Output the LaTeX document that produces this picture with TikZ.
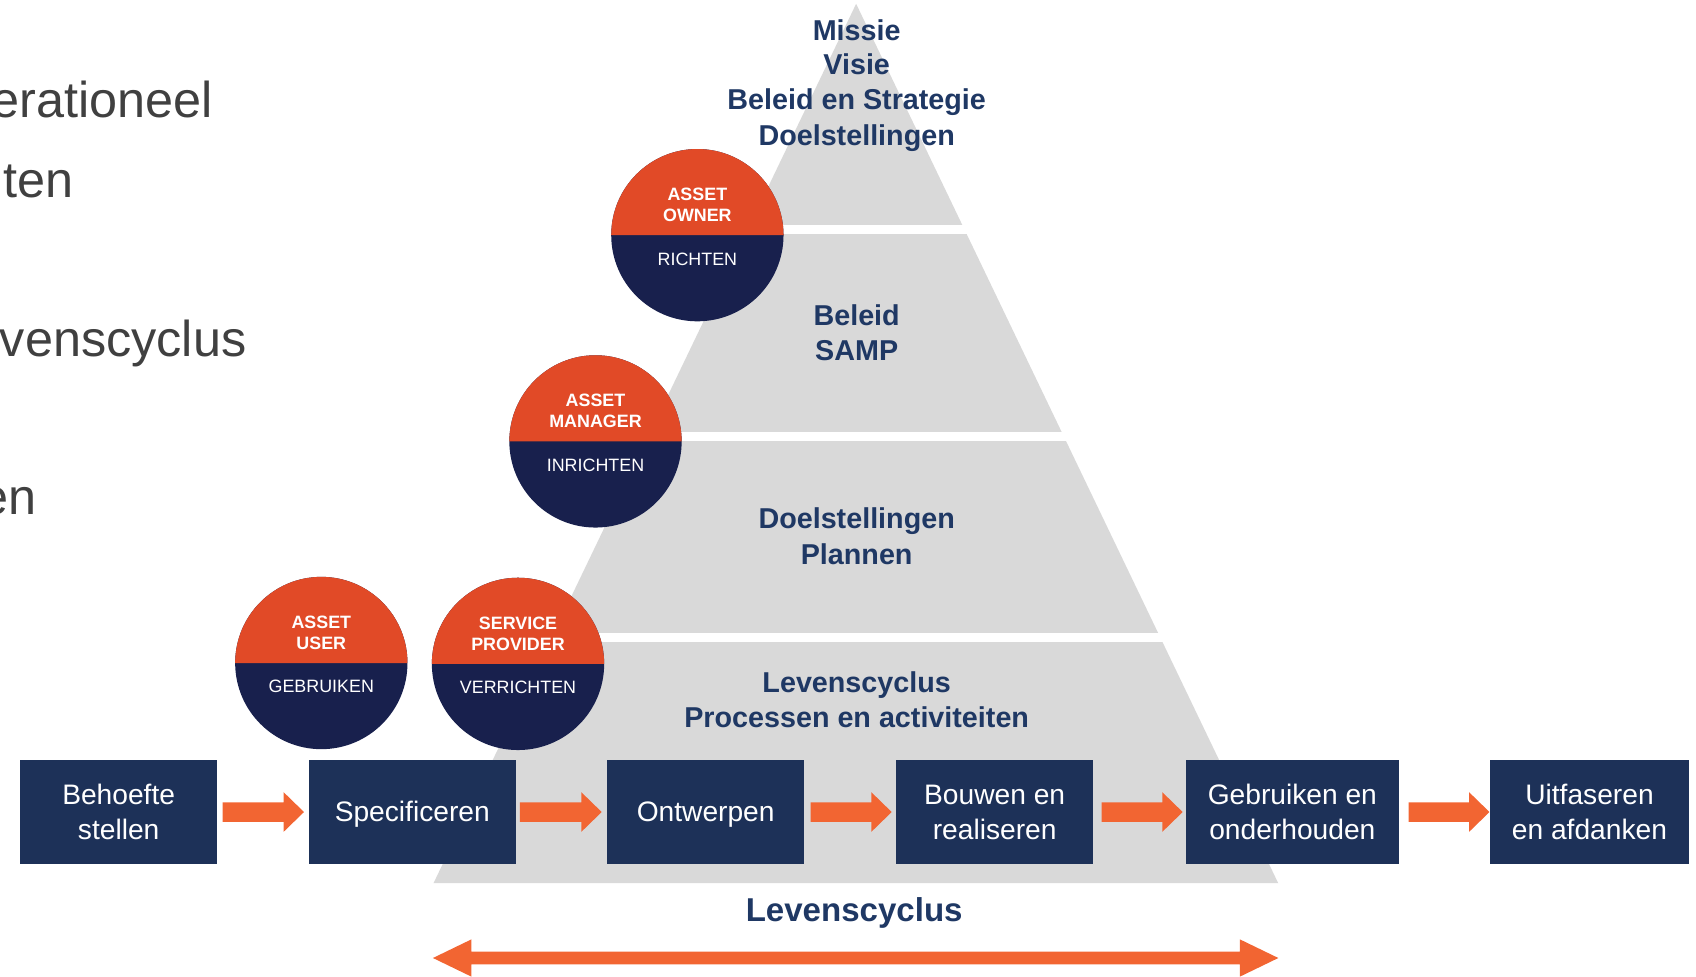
\documentclass[tikz,border=0pt]{standalone}
\usepackage{fontspec}
\setmainfont{Liberation Sans}
\usetikzlibrary{calc}
\definecolor{pyrgray}{HTML}{D9D9D9}
\definecolor{navytxt}{HTML}{1F3864}
\definecolor{boxnavy}{HTML}{1D3158}
\definecolor{circorange}{HTML}{E14A27}
\definecolor{circnavy}{HTML}{18204D}
\definecolor{arroworange}{HTML}{F26532}
\definecolor{sidegray}{HTML}{404040}
% block arrow from box #1 to box #2, #3 = gap after #1, #4 = gap before #2
\newcommand{\blockarrow}[4]{%
  \fill[arroworange] ($(#1.east)+(#3,-9)$) -- ($(#2.west)+(-#4-18.8,-9)$) -- ($(#2.west)+(-#4-18.8,-18.3)$) -- ($(#2.west)+(-#4,0)$) -- ($(#2.west)+(-#4-18.8,18.3)$) -- ($(#2.west)+(-#4-18.8,9)$) -- ($(#1.east)+(#3,9)$) -- cycle;}
\begin{document}
\begin{tikzpicture}[x=1pt,y=-1pt,
  pyrtxt/.style={anchor=base,inner sep=0pt,text=navytxt,font=\fontsize{26.5}{32}\selectfont\bfseries},
  boxtxt/.style={anchor=base,inner sep=0pt,text=white,font=\fontsize{26}{31}\selectfont},
  roletxt/.style={anchor=base,inner sep=0pt,text=white,font=\fontsize{16.5}{20}\selectfont\bfseries},
  verbtxt/.style={anchor=base,inner sep=0pt,text=white,font=\fontsize{16.5}{20}\selectfont},
  sidetxt/.style={anchor=base east,inner sep=0pt,text=sidegray,font=\fontsize{46.5}{55}\selectfont},
  stagebox/.style={rectangle,fill=boxnavy,minimum height=96pt,inner sep=0pt,outer sep=0pt},
  rolecirc/.style={circle,fill=circnavy,minimum size=159pt,inner sep=0pt,outer sep=0pt}]
\useasboundingbox (0,0) rectangle (1565,901.5);
\clip (0,0) rectangle (1565,901.5);

% side text (cut off at left edge)
\node[sidetxt] (s1) at (196.7,108.3) {erationeel};
\node[sidetxt] (s2) at (67.8,182.4) {ten};
\node[sidetxt] (s3) at (227.5,329.1) {venscyclus};
\node[sidetxt] (s4) at (34,475.2) {en};

% pyramid
\coordinate (apex) at (790,3.5);
\coordinate (pbl) at (400,815);
\coordinate (pbr) at (1179.5,815);
\fill[pyrgray] (apex) -- (pbl) -- (pbr) -- cycle;
\fill[white] (380,207.6) rectangle (1200,216.2);
\fill[white] (380,398.3) rectangle (1200,406.7);
\fill[white] (380,584.2) rectangle (1200,592.6);

% pyramid texts
\node[pyrtxt] (m1) at (790.5,37) {Missie};
\node[pyrtxt] (m2) at (790.5,69) {Visie};
\node[pyrtxt] (m3) at (790.5,101.5) {Beleid en Strategie};
\node[pyrtxt] (m4) at (790.5,134) {Doelstellingen};
\node[pyrtxt] (p1) at (790.5,300.8) {Beleid};
\node[pyrtxt] (p2) at (790.5,333) {SAMP};
\node[pyrtxt] (d1) at (790.5,488.1) {Doelstellingen};
\node[pyrtxt] (d2) at (790.5,520.6) {Plannen};
\node[pyrtxt] (l1) at (790.5,639.1) {Levenscyclus};
\node[pyrtxt] (l2) at (790.5,671) {Processen en activiteiten};
\node[pyrtxt,font=\fontsize{30.5}{36}\selectfont\bfseries] (lc) at (788.2,850.5) {Levenscyclus};

% role circles
\foreach \nm/\cx/\cy/\ta/\tb/\vb in {own/643.5/217/ASSET/OWNER/RICHTEN,
    man/549.5/407.3/ASSET/MANAGER/INRICHTEN,
    usr/296.5/611.8/ASSET/USER/GEBRUIKEN,
    srv/478/612.6/SERVICE/PROVIDER/VERRICHTEN}{
  \node[rolecirc] (\nm) at (\cx,\cy) {};
  \fill[circorange] (\nm.west) arc[start angle=180,end angle=0,radius=79.5pt] -- cycle;
  \node[roletxt] (\nm-a) at ($(\nm)+(0,-32)$) {\ta};
  \node[roletxt] (\nm-b) at ($(\nm)+(0,-12.4)$) {\tb};
  \node[verbtxt] (\nm-c) at ($(\nm)+(0,27.6)$) {\vb};
}

% stage boxes
\node[stagebox,minimum width=182pt] (b1) at (109.5,749.3) {};
\node[stagebox,minimum width=190.7pt] (b2) at (380.45,749.3) {};
\node[stagebox,minimum width=182.1pt] (b3) at (651.15,749.3) {};
\node[stagebox,minimum width=182.1pt] (b4) at (917.85,749.3) {};
\node[stagebox,minimum width=196.2pt] (b5) at (1192.5,749.3) {};
\node[stagebox,minimum width=183.6pt] (b6) at (1466.7,749.3) {};

\node[boxtxt] (b1a) at (109.5,742.8) {Behoefte};
\node[boxtxt] (b1b) at (109.5,775.1) {stellen};
\node[boxtxt] (b2a) at (380.45,758.2) {Specificeren};
\node[boxtxt] (b3a) at (651.15,758.2) {Ontwerpen};
\node[boxtxt] (b4a) at (917.85,742.8) {Bouwen en};
\node[boxtxt] (b4b) at (917.85,775.1) {realiseren};
\node[boxtxt] (b5a) at (1192.5,742.8) {Gebruiken en};
\node[boxtxt] (b5b) at (1192.5,775.1) {onderhouden};
\node[boxtxt] (b6a) at (1466.7,742.8) {Uitfaseren};
\node[boxtxt] (b6b) at (1466.7,775.1) {en afdanken};

% arrows between stages
\blockarrow{b1}{b2}{5}{4.6}
\blockarrow{b2}{b3}{4}{4.9}
\blockarrow{b3}{b4}{5.8}{4}
\blockarrow{b4}{b5}{7.7}{3.1}
\blockarrow{b5}{b6}{9.2}{0.5}

% lifecycle double arrow
\coordinate (la) at (399.5,884);
\coordinate (ra) at (1179.6,884);
\fill[arroworange] (la) -- ($(la)+(35.5,-17.2)$) -- ($(la)+(35.5,-5.9)$) -- ($(ra)+(-35.5,-5.9)$) -- ($(ra)+(-35.5,-17.2)$) -- (ra) -- ($(ra)+(-35.5,17.2)$) -- ($(ra)+(-35.5,5.9)$) -- ($(la)+(35.5,5.9)$) -- ($(la)+(35.5,17.2)$) -- cycle;
\end{tikzpicture}
\end{document}
